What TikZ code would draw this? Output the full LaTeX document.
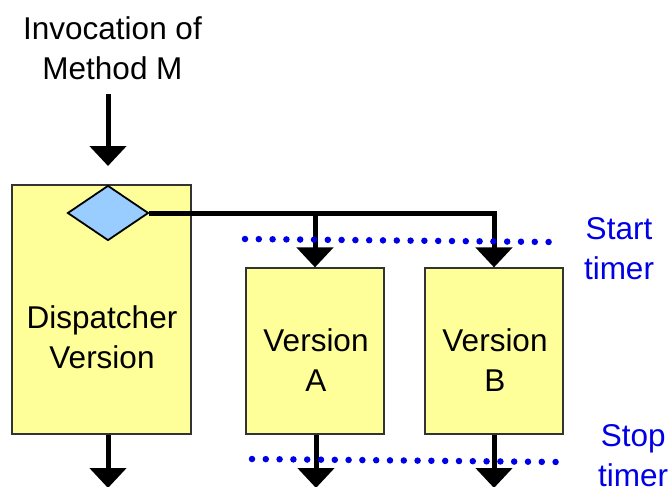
\documentclass[tikz,border=0pt]{standalone}
\usepackage{fontspec}
\setmainfont{Liberation Sans}
\usetikzlibrary{arrows.meta,shapes.geometric}
\definecolor{boxyellow}{RGB}{255,255,153}
\definecolor{diamblue}{RGB}{153,204,255}
\definecolor{timerblue}{RGB}{0,0,230}
\tikzset{
  box/.style={draw=black!80, line width=1.2pt, fill=boxyellow, inner sep=0pt},
  lbl/.style={align=center, inner sep=0pt, font=\fontsize{31.5}{40}\selectfont},
  tlbl/.style={lbl, text=timerblue},
  flow/.style={line width=5pt, -{Triangle[width=36pt,length=20pt]}},
  flowline/.style={line width=5pt},
  timer/.style={timerblue, line width=6.5pt, line cap=round, dash pattern=on 0pt off 13.8pt},
}
\begin{document}
\begin{tikzpicture}[x=1pt,y=-1pt]
\useasboundingbox (0,0) rectangle (670,487);

% boxes
\node[box, minimum width=179pt, minimum height=249pt] (disp) at (101.5,309.5) {};
\node[box, minimum width=138pt, minimum height=166pt] (va) at (315,351) {};
\node[box, minimum width=138pt, minimum height=166pt] (vb) at (494,351) {};

% dispatch decision
\node[diamond, draw=black, line width=1.8pt, fill=diamblue, aspect=1.47,
      minimum width=81pt, minimum height=55pt, inner sep=0pt] (d) at (108,213) {};

% labels
\node[lbl] (inv) at (112.5,48) {Invocation of\\Method M};
\node[lbl] (dl) at (102,337) {Dispatcher\\Version};
\node[lbl] (al) at (316,360) {Version\\A};
\node[lbl] (bl) at (495,360) {Version\\B};
\node[tlbl] (start) at (619,249) {Start\\timer};
\node[tlbl, anchor=west] (stop) at (598,456) {Stop\\timer};

% incoming invocation
\coordinate (in) at (108,94);
\coordinate (inTip) at (108,166);
\draw[flow] (in) -- (inTip);

% dispatch to both versions
\coordinate (ja) at (va.north |- d.east);
\coordinate (jb) at (vb.north |- d.east);
\draw[flowline] (d.east) -- ([xshift=2.5pt]jb);
\draw[flow] ([yshift=-2.5pt]jb) -- (vb.north);
\draw[flow] (ja) -- (va.north);

% outgoing flows
\coordinate (od) at (108,488);
\coordinate (oa) at (316,488);
\coordinate (ob) at (494,488);
\draw[flow] (disp.south -| od) -- (od);
\draw[flow] (va.south -| oa) -- (oa);
\draw[flow] (vb.south -| ob) -- (ob);

% timer lines: 23 dots each
\coordinate (s1) at (245,239);
\coordinate (s2) at (549.6,242);
\coordinate (e1) at (252,459);
\coordinate (e2) at (556.6,462);
\draw[timer] (s1) -- (s2);
\draw[timer] (e1) -- (e2);
\end{tikzpicture}
\end{document}
